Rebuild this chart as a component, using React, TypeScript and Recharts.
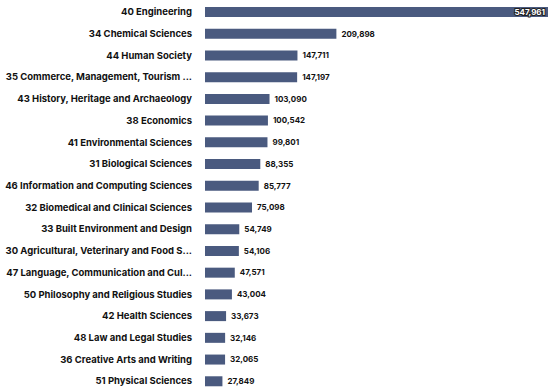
import { BarChart, Bar, XAxis, YAxis, LabelList } from 'recharts';

const categories = [
  '40 Engineering',
  '34 Chemical Sciences',
  '44 Human Society',
  '35 Commerce, Management, Tourism ...',
  '43 History, Heritage and Archaeology',
  '38 Economics',
  '41 Environmental Sciences',
  '31 Biological Sciences',
  '46 Information and Computing Sciences',
  '32 Biomedical and Clinical Sciences',
  '33 Built Environment and Design',
  '30 Agricultural, Veterinary and Food S...',
  '47 Language, Communication and Cul...',
  '50 Philosophy and Religious Studies',
  '42 Health Sciences',
  '48 Law and Legal Studies',
  '36 Creative Arts and Writing',
  '51 Physical Sciences',
];

const counts = [
  547961, 209898, 147711, 147197, 103090, 100542, 99801, 88355, 85777, 75098,
  54749, 54106, 47571, 43004, 33673, 32146, 32065, 27849,
];

const data = categories.map((name, i) => ({ name, count: counts[i] }));
const maxCount = Math.max(...counts);

const fmt = (v: number) => v.toLocaleString('en-US');

function CategoryTick(props: any) {
  const { x, y, payload } = props;
  return (
    <text
      x={x}
      y={y}
      dy="0.35em"
      textAnchor="end"
      fontSize={9.5}
      fontWeight={700}
      fontFamily="Inter"
      fill="#111"
    >
      {payload.value}
    </text>
  );
}

function ValueLabel(props: any) {
  const { x, y, width, height, value } = props;
  const cy = y + height / 2;
  if (value === maxCount) {
    return (
      <text
        x={x + width - 3}
        y={cy}
        dy="0.35em"
        textAnchor="end"
        fontSize={8}
        fontWeight={700}
        fontFamily="Inter"
        fill="#fff"
        stroke="#222"
        strokeWidth={2}
        paintOrder="stroke"
      >
        {fmt(value)}
      </text>
    );
  }
  return (
    <text
      x={x + width + 5}
      y={cy}
      dy="0.35em"
      textAnchor="start"
      fontSize={8}
      fontWeight={700}
      fontFamily="Inter"
      fill="#111"
    >
      {fmt(value)}
    </text>
  );
}

export default function App() {
  return (
    <div style={{ position: 'absolute', left: 0, top: 0, width: 550, height: 392, background: '#fff' }}>
      <BarChart
        width={550}
        height={392}
        data={data}
        layout="vertical"
        margin={{ top: 1, right: 2, bottom: 0, left: 0 }}
      >
        <XAxis type="number" domain={[0, maxCount]} hide />
        <YAxis
          type="category"
          dataKey="name"
          width={205}
          axisLine={false}
          tickLine={false}
          tickSize={0}
          tickMargin={13}
          interval={0}
          tick={<CategoryTick />}
        />
        <Bar dataKey="count" fill="#4a5a7f" barSize={10} isAnimationActive={false}>
          <LabelList dataKey="count" content={ValueLabel} />
        </Bar>
      </BarChart>
    </div>
  );
}
